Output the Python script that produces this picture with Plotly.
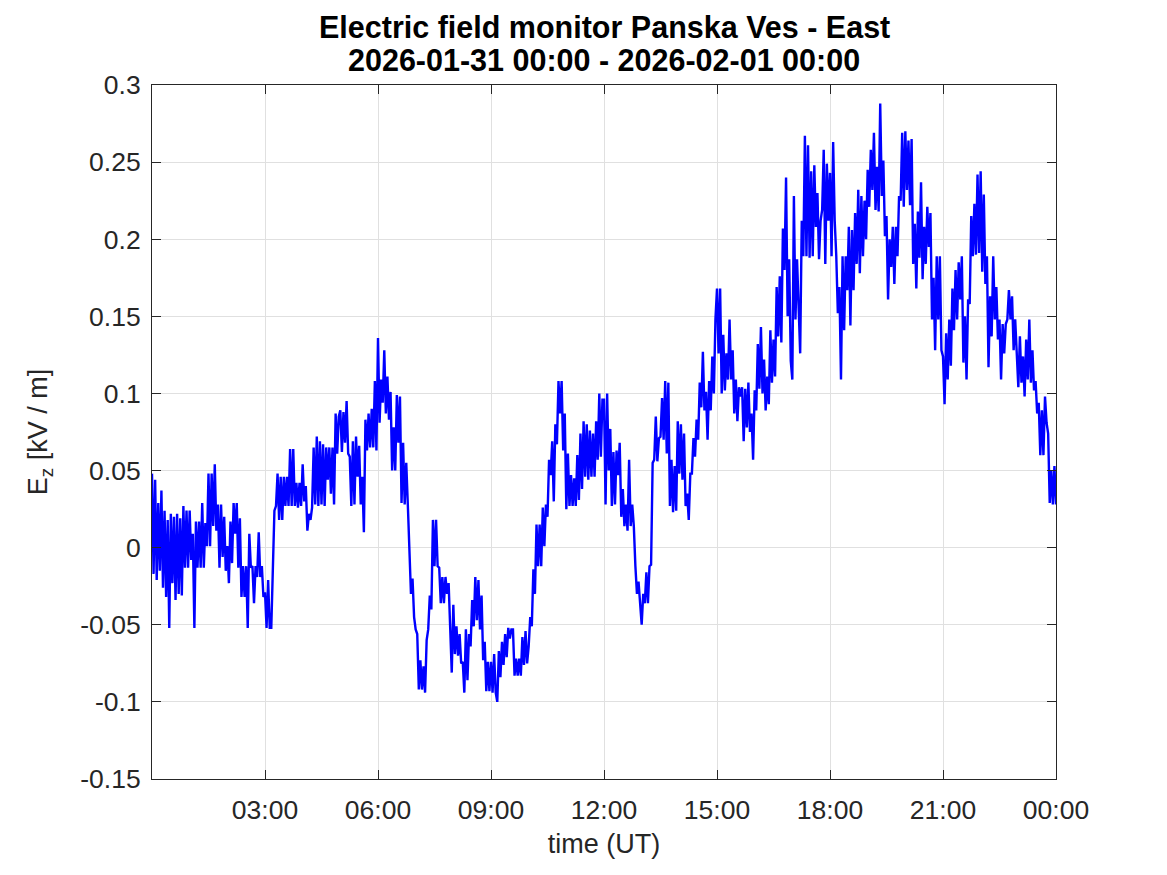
import plotly.graph_objects as go
import pandas as pd

# Ez [kV/m], one sample every 2.5 minutes from 2026-01-31 00:00
h00 = [0.048, -0.017, 0.044, -0.021, 0.029, -0.015, 0.037, -0.026, 0.024, -0.032, 0.018, -0.052,
       0.022, -0.023, 0.020, -0.034, 0.022, -0.030, 0.019, -0.031, 0.027, -0.013, 0.024, -0.013]
h01 = [0.024, -0.008, 0.009, -0.052, 0.017, -0.013, 0.017, -0.013, 0.029, -0.013, 0.016, 0.001,
       0.048, 0.001, 0.048, 0.014, 0.054, 0.011, 0.028, -0.013, 0.028, -0.006, 0.020, -0.015]
h02 = [0.001, -0.023, 0.017, -0.010, 0.029, 0.009, 0.029, -0.013, 0.019, -0.032, -0.012, -0.032,
       -0.012, -0.052, 0.009, -0.013, -0.012, -0.036, -0.012, -0.019, 0.010, -0.019, -0.012, -0.032]
h03 = [-0.029, -0.052, -0.021, -0.052, -0.052, -0.012, 0.024, 0.027, 0.048, 0.018, 0.046, 0.018,
       0.046, 0.027, 0.046, 0.027, 0.064, 0.027, 0.064, 0.027, 0.042, 0.026, 0.042, 0.027]
h04 = [0.054, 0.030, 0.040, 0.011, 0.022, 0.018, 0.026, 0.065, 0.028, 0.072, 0.027, 0.069,
       0.028, 0.067, 0.027, 0.065, 0.044, 0.065, 0.035, 0.065, 0.028, 0.087, 0.061, 0.085]
h05 = [0.089, 0.062, 0.088, 0.068, 0.095, 0.061, 0.059, 0.027, 0.069, 0.028, 0.072, 0.046,
       0.066, 0.028, 0.046, 0.010, 0.083, 0.063, 0.087, 0.065, 0.090, 0.065, 0.108, 0.063]
h06 = [0.136, 0.081, 0.109, 0.094, 0.128, 0.087, 0.111, 0.083, 0.101, 0.050, 0.078, 0.050,
       0.099, 0.068, 0.098, 0.029, 0.068, 0.028, 0.055, 0.028, -0.001, -0.030, -0.020, -0.045]
h07 = [-0.053, -0.056, -0.092, -0.073, -0.092, -0.077, -0.094, -0.060, -0.053, -0.031, -0.040, 0.018,
       -0.012, 0.018, -0.012, -0.013, -0.036, -0.019, -0.036, -0.019, -0.030, -0.023, -0.052, -0.081]
h08 = [-0.037, -0.069, -0.051, -0.070, -0.056, -0.075, -0.074, -0.094, -0.053, -0.086, -0.056, -0.064,
       -0.034, -0.051, -0.019, -0.047, -0.021, -0.053, -0.031, -0.073, -0.061, -0.093, -0.074, -0.093]
h09 = [-0.074, -0.094, -0.069, -0.094, -0.100, -0.067, -0.084, -0.061, -0.076, -0.056, -0.071, -0.052,
       -0.059, -0.053, -0.053, -0.083, -0.072, -0.083, -0.072, -0.083, -0.058, -0.076, -0.054, -0.075]
h10 = [-0.064, -0.045, -0.051, -0.014, -0.030, 0.015, -0.012, 0.015, -0.012, 0.026, 0.001, 0.028,
       0.020, 0.057, 0.047, 0.069, 0.030, 0.080, 0.067, 0.108, 0.087, 0.108, 0.063, 0.087]
h11 = [0.025, 0.061, 0.027, 0.047, 0.027, 0.045, 0.027, 0.060, 0.031, 0.074, 0.038, 0.082,
       0.046, 0.080, 0.044, 0.076, 0.046, 0.074, 0.046, 0.082, 0.057, 0.100, 0.059, 0.096]
h12 = [0.096, 0.028, 0.100, 0.050, 0.077, 0.027, 0.062, 0.028, 0.063, 0.047, 0.068, 0.020,
       0.038, 0.014, 0.028, 0.011, 0.057, 0.014, 0.028, 0.014, -0.012, -0.030, -0.022, -0.040]
h13 = [-0.050, -0.030, -0.036, -0.016, -0.036, -0.012, -0.011, 0.055, 0.057, 0.085, 0.056, 0.071,
       0.072, 0.097, 0.070, 0.108, 0.061, 0.107, 0.027, 0.057, 0.023, 0.053, 0.024, 0.082]
h14 = [0.048, 0.080, 0.044, 0.074, 0.027, 0.035, 0.018, 0.048, 0.048, 0.071, 0.059, 0.083,
       0.070, 0.107, 0.091, 0.127, 0.089, 0.101, 0.070, 0.108, 0.089, 0.124, 0.100, 0.148]
h15 = [0.168, 0.126, 0.168, 0.100, 0.138, 0.102, 0.126, 0.109, 0.148, 0.109, 0.128, 0.087,
       0.109, 0.082, 0.104, 0.098, 0.104, 0.069, 0.103, 0.078, 0.107, 0.075, 0.087, 0.057]
h16 = [0.102, 0.089, 0.132, 0.103, 0.143, 0.100, 0.122, 0.089, 0.111, 0.093, 0.141, 0.107,
       0.135, 0.111, 0.169, 0.137, 0.176, 0.133, 0.207, 0.180, 0.240, 0.150, 0.187, 0.121]
h17 = [0.109, 0.228, 0.148, 0.187, 0.155, 0.126, 0.212, 0.189, 0.267, 0.189, 0.261, 0.188,
       0.244, 0.189, 0.248, 0.208, 0.230, 0.187, 0.212, 0.219, 0.258, 0.184, 0.249, 0.212]
h18 = [0.243, 0.189, 0.263, 0.212, 0.189, 0.152, 0.169, 0.109, 0.189, 0.141, 0.189, 0.167,
       0.208, 0.144, 0.206, 0.167, 0.217, 0.184, 0.232, 0.178, 0.228, 0.189, 0.225, 0.200]
h19 = [0.245, 0.221, 0.258, 0.232, 0.269, 0.219, 0.247, 0.218, 0.288, 0.228, 0.251, 0.202,
       0.215, 0.161, 0.200, 0.182, 0.208, 0.171, 0.208, 0.189, 0.228, 0.225, 0.269, 0.221]
h20 = [0.270, 0.232, 0.264, 0.222, 0.265, 0.184, 0.210, 0.168, 0.218, 0.188, 0.237, 0.174,
       0.208, 0.184, 0.221, 0.195, 0.217, 0.148, 0.175, 0.128, 0.189, 0.148, 0.189, 0.128]
h21 = [0.124, 0.093, 0.139, 0.109, 0.148, 0.118, 0.168, 0.141, 0.180, 0.148, 0.185, 0.161,
       0.189, 0.120, 0.150, 0.109, 0.161, 0.158, 0.215, 0.189, 0.223, 0.190, 0.242, 0.191]
h22 = [0.244, 0.179, 0.229, 0.171, 0.189, 0.117, 0.163, 0.137, 0.189, 0.148, 0.169, 0.135,
       0.148, 0.109, 0.145, 0.126, 0.145, 0.148, 0.167, 0.148, 0.163, 0.128, 0.148, 0.128]
h23 = [0.104, 0.137, 0.107, 0.124, 0.098, 0.135, 0.109, 0.148, 0.107, 0.128, 0.102, 0.108,
       0.087, 0.094, 0.060, 0.089, 0.060, 0.098, 0.081, 0.074, 0.029, 0.050, 0.028, 0.053, 0.028]

ez = (h00 + h01 + h02 + h03 + h04 + h05 + h06 + h07 + h08 + h09 + h10 + h11 +
      h12 + h13 + h14 + h15 + h16 + h17 + h18 + h19 + h20 + h21 + h22 + h23)
times = pd.date_range("2026-01-31 00:00", periods=len(ez), freq="150s")

y_ticks = [-0.15, -0.1, -0.05, 0, 0.05, 0.1, 0.15, 0.2, 0.25, 0.3]
y_labels = ["-0.15", "-0.1", "-0.05", "0", "0.05", "0.1", "0.15", "0.2", "0.25", "0.3"]
x_ticks = pd.date_range("2026-01-31 03:00", "2026-02-01 00:00", freq="3h")
x_labels = ["03:00", "06:00", "09:00", "12:00", "15:00", "18:00", "21:00", "00:00"]
title_lines = ["Electric field monitor Panska Ves - East", "2026-01-31 00:00 - 2026-02-01 00:00"]

axis_col = "#262626"
grid_col = "#e0e0e0"
font_fam = "Liberation Sans, Arial, sans-serif"

fig = go.Figure()
fig.add_trace(go.Scatter(x=times, y=ez, mode="lines",
                         line=dict(color="#0000ff", width=2.4), showlegend=False))

fig.update_layout(
    width=1167, height=875,
    margin=dict(l=144, r=119, t=77, b=104, autoexpand=False),
    paper_bgcolor="white", plot_bgcolor="white",
    font=dict(family=font_fam, size=26, color=axis_col),
)
for text, yy in zip(title_lines, [1.0836, 1.036]):
    fig.add_annotation(text="<b>" + text + "</b>", xref="paper", yref="paper",
                       x=0.5, y=yy, xanchor="center", yanchor="middle", showarrow=False,
                       font=dict(family=font_fam, size=30.5, color="black"))

fig.update_xaxes(
    type="date", automargin=False,
    range=["2026-01-31 00:00", "2026-02-01 00:00"],
    tickvals=list(x_ticks), ticktext=x_labels,
    ticks="inside", ticklen=9, tickcolor=axis_col, tickwidth=1,
    showline=True, linecolor=axis_col, linewidth=1, mirror="ticks",
    showgrid=True, gridcolor=grid_col, gridwidth=1,
    zeroline=False, ticklabelstandoff=7,
    title=dict(text="time (UT)", font=dict(size=27, color=axis_col), standoff=10),
    tickfont=dict(size=26.5, color=axis_col),
)
fig.update_yaxes(
    automargin=False,
    range=[-0.15, 0.3],
    tickvals=y_ticks, ticktext=y_labels,
    ticks="inside", ticklen=9, tickcolor=axis_col, tickwidth=1,
    showline=True, linecolor=axis_col, linewidth=1, mirror="ticks",
    showgrid=True, gridcolor=grid_col, gridwidth=1,
    zeroline=False, ticklabelstandoff=5,
    title=dict(text="E<sub>z</sub> [kV / m]", font=dict(size=27, color=axis_col), standoff=24),
    tickfont=dict(size=26.5, color=axis_col),
)

fig.write_html("out.html")
